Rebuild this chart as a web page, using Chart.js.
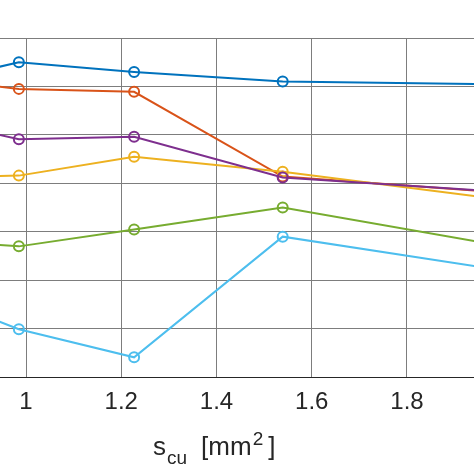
<!DOCTYPE html>
<html>
<head>
<meta charset="utf-8">
<script src="https://cdn.jsdelivr.net/npm/chart.js@4.4.1/dist/chart.umd.min.js"></script>
<style>
    html, body { margin: 0; padding: 0; background: #fff; overflow: hidden; }
    #wrap { position: relative; width: 474px; height: 474px; }
    #xtitle {
        position: absolute; left: 153px; top: 433px;
        font-family: "Liberation Sans", Arial, sans-serif;
        font-size: 26px; color: #262626; white-space: nowrap; line-height: 1;
    }
    #xtitle .sub { font-size: 19px; position: relative; top: 9px; margin-left: 1px; }
    #xtitle .sup { font-size: 19px; position: relative; top: -10px; margin-left: 1px; }
</style>
</head>
<body>
<div id="wrap">
    <canvas id="chart" width="474" height="474"></canvas>
    <div id="xtitle">s<span class="sub">cu</span><span style="margin-left:14px">[mm</span><span class="sup">2</span><span style="margin-left:5px">]</span></div>
</div>
<script>
// copper cross-sections (wire dia 1.0, 1.12, 1.25, 1.4, 1.6 mm)
const sCu = [0.785, 0.985, 1.227, 1.539, 2.011];
const xTicks = [1, 1.2, 1.4, 1.6, 1.8];

// in grid units (left axis cropped away)
const seriesBlue   = [6.04, 6.50, 6.30, 6.10, 6.04];
const seriesOrange = [6.18, 5.95, 5.89, 4.14, 3.80];
const seriesYellow = [4.13, 4.16, 4.55, 4.24, 3.65];
const seriesPurple = [5.35, 4.91, 4.96, 4.12, 3.82];
const seriesGreen  = [2.83, 2.70, 3.05, 3.50, 2.69];
const seriesCyan   = [1.75, 0.99, 0.41, 2.90, 2.19];

const series = [
    { data: seriesBlue,   color: '#0072BD' },
    { data: seriesOrange, color: '#D95319' },
    { data: seriesYellow, color: '#EDB120' },
    { data: seriesPurple, color: '#7E2F8E' },
    { data: seriesGreen,  color: '#77AC30' },
    { data: seriesCyan,   color: '#4DBEEE' }
];

// matlab draws the last line on top, chart.js the first one
const datasets = series.map((s, i) => ({
    data: s.data.map((v, j) => ({ x: sCu[j], y: v })),
    borderColor: s.color,
    backgroundColor: 'rgba(0,0,0,0)',
    borderWidth: 2,
    pointRadius: 5,
    pointBorderWidth: 2,
    pointBackgroundColor: 'rgba(0,0,0,0)',
    showLine: true,
    tension: 0,
    order: series.length - i
})).reverse();

const ctx = document.getElementById('chart').getContext('2d');
new Chart(ctx, {
    type: 'scatter',
    data: { datasets: datasets },
    options: {
        responsive: false,
        animation: false,
        layout: { autoPadding: false, padding: { top: 38, bottom: 46, left: 0, right: 0 } },
        plugins: { legend: { display: false }, tooltip: { enabled: false } },
        scales: {
            x: {
                type: 'linear',
                min: 0.9454,
                max: 1.9407,
                afterBuildTicks: (axis) => { axis.ticks = xTicks.map(v => ({ value: v })); },
                ticks: {
                    color: '#262626',
                    padding: 11,
                    maxRotation: 0,
                    autoSkip: false,
                    font: { family: '"Liberation Sans", Arial, sans-serif', size: 24 },
                    callback: (v) => String(v)
                },
                grid: { color: '#7d7d7d', lineWidth: 1, drawTicks: false },
                border: { display: true, color: '#262626', width: 1 }
            },
            y: {
                min: 0,
                max: 7,
                afterFit: (axis) => { axis.width = 0; },
                ticks: { display: false, stepSize: 1 },
                grid: { color: '#7d7d7d', lineWidth: 1, drawTicks: false },
                border: { display: false }
            }
        }
    }
});
</script>
</body>
</html>
